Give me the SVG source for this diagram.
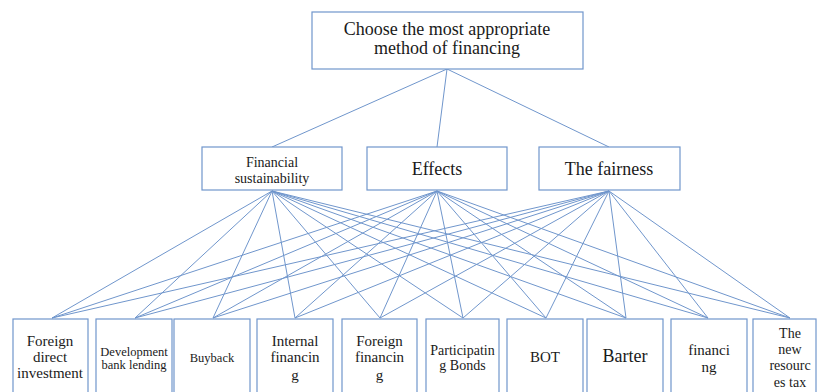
<svg xmlns="http://www.w3.org/2000/svg" width="817" height="392" viewBox="0 0 817 392">
<style>
.box{fill:#fff;stroke:#7096cc;stroke-width:1.2}
.ln{stroke:#7096cc;stroke-width:1;fill:none}
text{fill:#1a1a1a;text-anchor:middle}
.t18{font-size:18px}.t17{font-size:17px}.t15{font-size:15px}.t14{font-size:14px}.t13{font-size:12.5px}
</style>
<rect width="817" height="392" fill="#fff"/>
<g id="connectors">
<line class="ln" x1="447" y1="69" x2="272" y2="147"/>
<line class="ln" x1="447" y1="69" x2="437" y2="147"/>
<line class="ln" x1="447" y1="69" x2="609" y2="147"/>
<g id="from-fs">
<line class="ln" x1="272" y1="191" x2="52" y2="318"/><line class="ln" x1="272" y1="191" x2="135" y2="318"/><line class="ln" x1="272" y1="191" x2="213" y2="318"/><line class="ln" x1="272" y1="191" x2="295" y2="318"/><line class="ln" x1="272" y1="191" x2="380" y2="318"/><line class="ln" x1="272" y1="191" x2="463" y2="318"/><line class="ln" x1="272" y1="191" x2="546" y2="318"/><line class="ln" x1="272" y1="191" x2="626" y2="318"/><line class="ln" x1="272" y1="191" x2="708" y2="318"/><line class="ln" x1="272" y1="191" x2="790" y2="318"/>
</g>
<g id="from-ef">
<line class="ln" x1="437" y1="191" x2="52" y2="318"/><line class="ln" x1="437" y1="191" x2="135" y2="318"/><line class="ln" x1="437" y1="191" x2="213" y2="318"/><line class="ln" x1="437" y1="191" x2="295" y2="318"/><line class="ln" x1="437" y1="191" x2="380" y2="318"/><line class="ln" x1="437" y1="191" x2="463" y2="318"/><line class="ln" x1="437" y1="191" x2="546" y2="318"/><line class="ln" x1="437" y1="191" x2="626" y2="318"/><line class="ln" x1="437" y1="191" x2="708" y2="318"/><line class="ln" x1="437" y1="191" x2="790" y2="318"/>
</g>
<g id="from-fa">
<line class="ln" x1="609" y1="191" x2="52" y2="318"/><line class="ln" x1="609" y1="191" x2="135" y2="318"/><line class="ln" x1="609" y1="191" x2="213" y2="318"/><line class="ln" x1="609" y1="191" x2="295" y2="318"/><line class="ln" x1="609" y1="191" x2="380" y2="318"/><line class="ln" x1="609" y1="191" x2="463" y2="318"/><line class="ln" x1="609" y1="191" x2="546" y2="318"/><line class="ln" x1="609" y1="191" x2="626" y2="318"/><line class="ln" x1="609" y1="191" x2="708" y2="318"/><line class="ln" x1="609" y1="191" x2="790" y2="318"/>
</g>
</g>
<g font-family="Liberation Serif, Times New Roman, DejaVu Serif, serif">
<g id="goal">
<rect class="box" x="312" y="12" width="271" height="57"/>
<text class="t18" x="447" y="35">Choose the most appropriate</text>
<text class="t18" x="447" y="54">method of financing</text>
</g>
<g id="financial-sustainability">
<rect class="box" x="202" y="147" width="140" height="43"/>
<text class="t14" x="272" y="167">Financial</text>
<text class="t14" x="272" y="183">sustainability</text>
</g>
<g id="effects">
<rect class="box" x="367" y="147" width="140" height="43"/>
<text class="t18" x="437" y="175">Effects</text>
</g>
<g id="fairness">
<rect class="box" x="539" y="147" width="141" height="43"/>
<text class="t18" x="609" y="175">The fairness</text>
</g>
<g id="fdi">
<rect class="box" x="13" y="319" width="75" height="85"/>
<text class="t15" x="50" y="346">Foreign</text>
<text class="t15" x="50" y="362">direct</text>
<text class="t15" x="50" y="378">investment</text>
</g>
<g id="dev-bank">
<rect class="box" x="96" y="319" width="76" height="85"/>
<text class="t13" x="134" y="356">Development</text>
<text class="t13" x="134" y="369">bank lending</text>
</g>
<g id="buyback">
<rect class="box" x="174" y="319" width="76" height="85"/>
<text class="t13" x="212" y="362">Buyback</text>
</g>
<g id="internal">
<rect class="box" x="257" y="319" width="76" height="85"/>
<text class="t15" x="295" y="346">Internal</text>
<text class="t15" x="295" y="362">financin</text>
<text class="t15" x="295" y="380">g</text>
</g>
<g id="foreign-fin">
<rect class="box" x="342" y="319" width="75" height="85"/>
<text class="t15" x="379.5" y="346">Foreign</text>
<text class="t15" x="379.5" y="362">financin</text>
<text class="t15" x="379.5" y="380">g</text>
</g>
<g id="participating">
<rect class="box" x="426" y="319" width="73" height="85"/>
<text class="t14" x="462.5" y="355">Participatin</text>
<text class="t14" x="462.5" y="370">g Bonds</text>
</g>
<g id="bot">
<rect class="box" x="507" y="319" width="76" height="85"/>
<text class="t15" x="545" y="362">BOT</text>
</g>
<g id="barter">
<rect class="box" x="587" y="319" width="76" height="85"/>
<text class="t18" x="625" y="362">Barter</text>
</g>
<g id="financing">
<rect class="box" x="671" y="319" width="76" height="85"/>
<text class="t15" x="709" y="355">financi</text>
<text class="t15" x="709" y="372">ng</text>
</g>
<g id="resources-tax">
<rect class="box" x="753" y="319" width="63" height="85"/>
<text class="t14" x="790" y="338">The</text>
<text class="t14" x="790" y="354">new</text>
<text class="t14" x="790" y="370">resourc</text>
<text class="t14" x="790" y="387">es tax</text>
</g>
</g>
</svg>
